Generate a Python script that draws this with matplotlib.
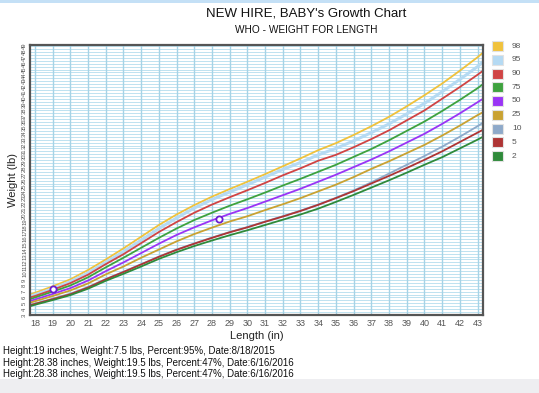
import numpy as np
import matplotlib.pyplot as plt
from matplotlib.patches import Rectangle

plt.rcParams['font.family'] = ['Liberation Sans', 'DejaVu Sans']

length_in = [17.72, 18, 19, 20, 21, 22, 23, 24, 25, 26, 27, 28, 29, 30, 31,
             32, 33, 34, 35, 36, 37, 38, 39, 40, 41, 42, 43, 43.31]

p98 = [6.5, 6.8, 7.9, 9.1, 10.7, 12.5, 14.4, 16.4, 18.4, 20.2, 21.8, 23.25, 24.55, 25.8,
       27.1, 28.45, 29.8, 31.2, 32.4, 33.8, 35.3, 36.9, 38.7, 40.6, 42.6, 44.8, 47.1, 47.9]
p95 = [6.2, 6.45, 7.5, 8.7, 10.2, 12.0, 13.85, 15.8, 17.8, 19.6, 21.3, 22.75, 24.05, 25.3,
       26.6, 27.9, 29.1, 30.4, 31.5, 32.8, 34.2, 35.7, 37.4, 39.2, 41.2, 43.3, 45.5, 46.3]
p90 = [6.0, 6.25, 7.3, 8.45, 9.9, 11.7, 13.4, 15.3, 17.2, 18.9, 20.5, 21.9, 23.15, 24.35,
       25.6, 26.9, 28.1, 29.4, 30.4, 31.7, 33.1, 34.6, 36.3, 38.0, 40.0, 42.0, 44.1, 44.8]
p75 = [5.7, 6.0, 7.0, 8.05, 9.45, 11.15, 12.8, 14.5, 16.2, 17.8, 19.25, 20.5, 21.7, 22.8,
       23.95, 25.15, 26.3, 27.5, 28.7, 30.05, 31.4, 32.9, 34.5, 36.1, 37.9, 39.8, 41.8, 42.5]
p50 = [5.4, 5.65, 6.6, 7.6, 8.9, 10.5, 12.0, 13.6, 15.2, 16.7, 18.0, 19.2, 20.3, 21.3,
       22.4, 23.5, 24.6, 25.8, 27.0, 28.3, 29.6, 31.0, 32.5, 34.0, 35.7, 37.5, 39.4, 40.0]
p25 = [5.1, 5.35, 6.25, 7.2, 8.4, 9.95, 11.3, 12.8, 14.2, 15.6, 16.85, 17.95, 19.0, 19.9,
       20.95, 21.95, 23.0, 24.15, 25.3, 26.6, 28.0, 29.3, 30.7, 32.1, 33.7, 35.4, 37.2, 37.7]
p10 = [4.75, 4.95, 5.8, 6.65, 7.8, 9.15, 10.4, 11.7, 13.0, 14.2, 15.25, 16.25, 17.2, 18.05,
       19.0, 19.9, 20.85, 21.9, 23.05, 24.3, 25.7, 27.2, 28.7, 30.2, 31.8, 33.5, 35.3, 35.9]
p5 = [4.65, 4.9, 5.7, 6.55, 7.7, 9.1, 10.35, 11.65, 12.95, 14.15, 15.2, 16.2, 17.15, 18.0,
      18.95, 19.85, 20.8, 21.85, 23.0, 24.2, 25.5, 26.8, 28.15, 29.55, 31.0, 32.6, 34.2, 34.7]
p2 = [4.5, 4.75, 5.55, 6.4, 7.5, 8.85, 10.05, 11.3, 12.6, 13.75, 14.8, 15.75, 16.65, 17.5,
      18.4, 19.3, 20.2, 21.2, 22.35, 23.55, 24.8, 26.05, 27.35, 28.7, 30.0, 31.5, 33.0, 33.5]

percentiles = ['98', '95', '90', '75', '50', '25', '10', '5', '2']
curves = [p98, p95, p90, p75, p50, p25, p10, p5, p2]
colors = ['#F0C23C', '#B5DAF3', '#D04444', '#3EA23E', '#9A34F5', '#C9A232',
          '#8EA9C9', '#AE3434', '#2F8A3A']

visit_len = [19, 28.38]
visit_wt = [7.5, 19.5]
notes = [
    'Height:19 inches, Weight:7.5 lbs, Percent:95%, Date:8/18/2015',
    'Height:28.38 inches, Weight:19.5 lbs, Percent:47%, Date:6/16/2016',
    'Height:28.38 inches, Weight:19.5 lbs, Percent:47%, Date:6/16/2016',
]

W, H = 539, 393
fig = plt.figure(figsize=(W / 100, H / 100), dpi=100)
fig.patch.set_facecolor('white')

# page strips from the screenshot
fig.add_artist(Rectangle((0, 1 - 3 / H), 1, 3 / H, transform=fig.transFigure,
                         color='#C4E0F6', lw=0))
fig.add_artist(Rectangle((0, 0), 1, 14 / H, transform=fig.transFigure,
                         color='#EEEEF1', lw=0))

ax = fig.add_axes([30 / W, (H - 315) / H, 453 / W, 270 / H])
ax.set_xlim(17.72, 43.31)
ax.set_ylim(3, 49.2)

for y in np.arange(3, 49.5, 0.5):
    ax.axhline(y, color='#BFE2F0', lw=0.7, zorder=0)
for x in range(18, 44):
    ax.axvline(x, color='#A6D3E6', lw=1.0, zorder=0)

for name, vals, col in zip(percentiles, curves, colors):
    lw = 2.2 if name == '95' else 1.3
    ax.plot(length_in, vals, color=col, lw=lw, zorder=2)

ax.plot(visit_len, visit_wt, linestyle='none', marker='o', ms=4.5, mew=1.3,
        mfc='white', mec='#6A1FD0', zorder=4)

ax.set_xticks(range(18, 44))
ax.set_yticks(range(3, 50))
ax.tick_params(axis='x', length=0, pad=3, labelsize=6.5, labelcolor='#555555')
ax.tick_params(axis='y', length=0, pad=2, labelsize=4.2, labelcolor='#555555',
               labelrotation=90)
for lab in ax.get_yticklabels():
    lab.set_va('center')
for sp in ax.spines.values():
    sp.set_color('#555555')
    sp.set_linewidth(1.6)

ax.set_xlabel('Length (in)', fontsize=8, color='#222222', labelpad=2)
ax.set_ylabel('Weight (lb)', fontsize=8, color='#222222', labelpad=3)

fig.text(306 / W, 1 - 14 / H, "NEW HIRE, BABY's Growth Chart", ha='center',
         va='center', fontsize=9.5, color='#111111')
fig.text(306 / W, 1 - 30 / H, 'WHO - WEIGHT FOR LENGTH', ha='center',
         va='center', fontsize=7.3, color='#111111')

# legend boxes on the right
for i, (name, col) in enumerate(zip(percentiles, colors)):
    yc = 46 + i * 13.75
    fig.add_artist(Rectangle((492 / W, 1 - (yc + 5) / H), 11 / W, 10 / H,
                             transform=fig.transFigure, facecolor=col,
                             edgecolor='#E2E2E2', lw=0.8))
    fig.text(512 / W, 1 - yc / H, name, ha='left', va='center', fontsize=6,
             color='#555555')

for i, line in enumerate(notes):
    fig.text(3 / W, 1 - (351 + i * 11.5) / H, line, ha='left', va='center',
             fontsize=7, color='#111111')

fig.savefig('out.png', dpi=100)
